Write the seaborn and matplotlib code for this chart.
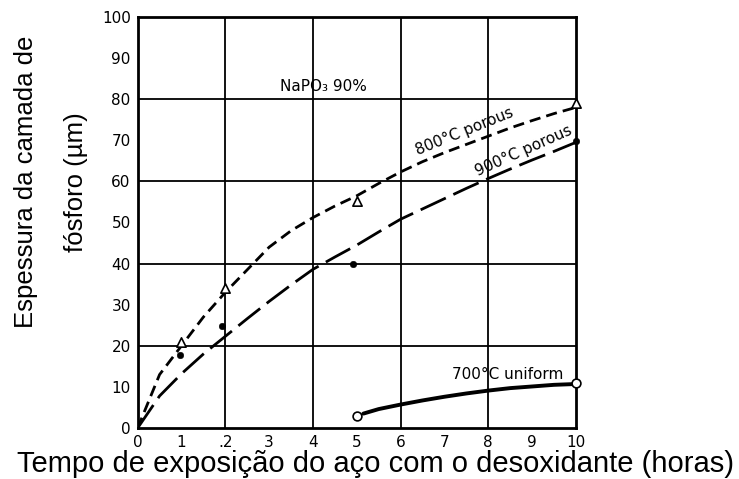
import matplotlib
matplotlib.use("Agg")
import matplotlib.pyplot as plt
import seaborn as sns
import pandas as pd

# ---- data ----
x_curve = [0, 0.5, 1, 1.5, 2, 2.5, 3, 3.5, 4, 4.5, 5, 5.5, 6, 6.5, 7, 7.5, 8, 8.5, 9, 9.5, 10]
y800_curve = [0, 13, 20, 27, 33, 38.5, 44, 48, 51.2, 54, 56.5, 59.5, 62.3, 64.8, 67, 69, 71, 73, 74.8, 76.5, 78]
y900_curve = [0, 7.8, 13.2, 18, 22.3, 26.6, 30.8, 34.8, 38.6, 41.6, 44.5, 47.7, 50.8, 53.3, 55.8, 58.3, 60.7, 63, 65.2, 67.3, 69.5]
x700_curve = [5.15, 5.5, 6, 6.5, 7, 7.5, 8, 8.5, 9, 9.5, 10]
y700_curve = [3.5, 4.6, 5.7, 6.7, 7.6, 8.4, 9.1, 9.7, 10.1, 10.5, 10.7]

x800_pts = [1, 2, 5, 10]
y800_pts = [21, 34, 55.3, 79]
x900_pts = [0.97, 1.93, 4.92, 10]
y900_pts = [17.8, 24.9, 40, 69.8]
x700_pts = [5, 10]
y700_pts = [3, 11]

x_ticks = [0, 1, 2, 3, 4, 5, 6, 7, 8, 9, 10]
x_ticklabels = ["0", "1", ".2", "3", "4", "5", "6", "7", "8", "9", "10"]
y_ticks = [0, 10, 20, 30, 40, 50, 60, 70, 80, 90, 100]
y_ticklabels = ["0", "10", "20", "30", "40", "50", "60", "70", "80", "90", "100"]

xlabel = "Tempo de exposição do aço com o desoxidante (horas)"
ylabel_1 = "Espessura da camada de"
ylabel_2 = "fósforo (µm)"

sns.set_theme(style="white")
plt.rcParams["font.family"] = ["DejaVu Sans"]
plt.rcParams["text.color"] = "black"
plt.rcParams["xtick.color"] = "black"
plt.rcParams["ytick.color"] = "black"

fig = plt.figure(figsize=(7.39, 4.79), dpi=100)
ax = fig.add_axes([0.1863, 0.1065, 0.593, 0.858])

# grid (major lines every 2 in x, every 20 in y)
for gx in [2, 4, 6, 8]:
    ax.axvline(gx, color="black", lw=1.3, zorder=1)
for gy in [20, 40, 60, 80]:
    ax.axhline(gy, color="black", lw=1.3, zorder=1)

d800 = pd.DataFrame({"x": x_curve, "y": y800_curve})
d900 = pd.DataFrame({"x": x_curve, "y": y900_curve})
d700 = pd.DataFrame({"x": x700_curve, "y": y700_curve})

sns.lineplot(data=d800, x="x", y="y", ax=ax, color="black", lw=2.0, sort=False)
ax.lines[-1].set_dashes([4, 2.2])
sns.lineplot(data=d900, x="x", y="y", ax=ax, color="black", lw=2.0, sort=False)
ax.lines[-1].set_dashes([10, 3])
sns.lineplot(data=d700, x="x", y="y", ax=ax, color="black", lw=2.8, sort=False)

sns.scatterplot(x=x800_pts, y=y800_pts, ax=ax, marker="^", s=45, facecolor="white",
                edgecolor="black", linewidth=1.2, zorder=5, clip_on=False)
sns.scatterplot(x=x900_pts, y=y900_pts, ax=ax, marker="o", s=22, color="black",
                edgecolor="black", zorder=5, clip_on=False)
sns.scatterplot(x=x700_pts, y=y700_pts, ax=ax, marker="o", s=40, facecolor="white",
                edgecolor="black", linewidth=1.2, zorder=5, clip_on=False)

ax.set_xlim(0, 10)
ax.set_ylim(0, 100)
ax.set_xticks(x_ticks)
ax.set_xticklabels(x_ticklabels, fontsize=11)
ax.set_yticks(y_ticks)
ax.set_yticklabels(y_ticklabels, fontsize=11)
ax.tick_params(direction="in", length=5, width=1.3, color="black", pad=5, labelcolor="black")
ax.set_xlabel("")
ax.set_ylabel("")
for s in ax.spines.values():
    s.set_color("black")
    s.set_linewidth(2)

ax.text(4.25, 83, "NaPO₃ 90%", fontsize=11, ha="center", va="center", color="black")
ax.text(7.45, 72.2, "800°C porous", fontsize=11, ha="center", va="center", rotation=22, color="black")
ax.text(8.8, 67.5, "900°C porous", fontsize=11, ha="center", va="center", rotation=24, color="black")
ax.text(8.45, 13.0, "700°C uniform", fontsize=11, ha="center", va="center", color="black")

fig.text(0.508, 0.032, xlabel, fontsize=21, ha="center", va="center", color="black",
         family=["Liberation Sans", "DejaVu Sans"])
fig.text(0.035, 0.62, ylabel_1, fontsize=18.5, ha="center", va="center", rotation=90, color="black",
         family=["Liberation Sans", "DejaVu Sans"])
fig.text(0.103, 0.62, ylabel_2, fontsize=18.5, ha="center", va="center", rotation=90, color="black",
         family=["Liberation Sans", "DejaVu Sans"])

fig.savefig("out.png", dpi=100)
